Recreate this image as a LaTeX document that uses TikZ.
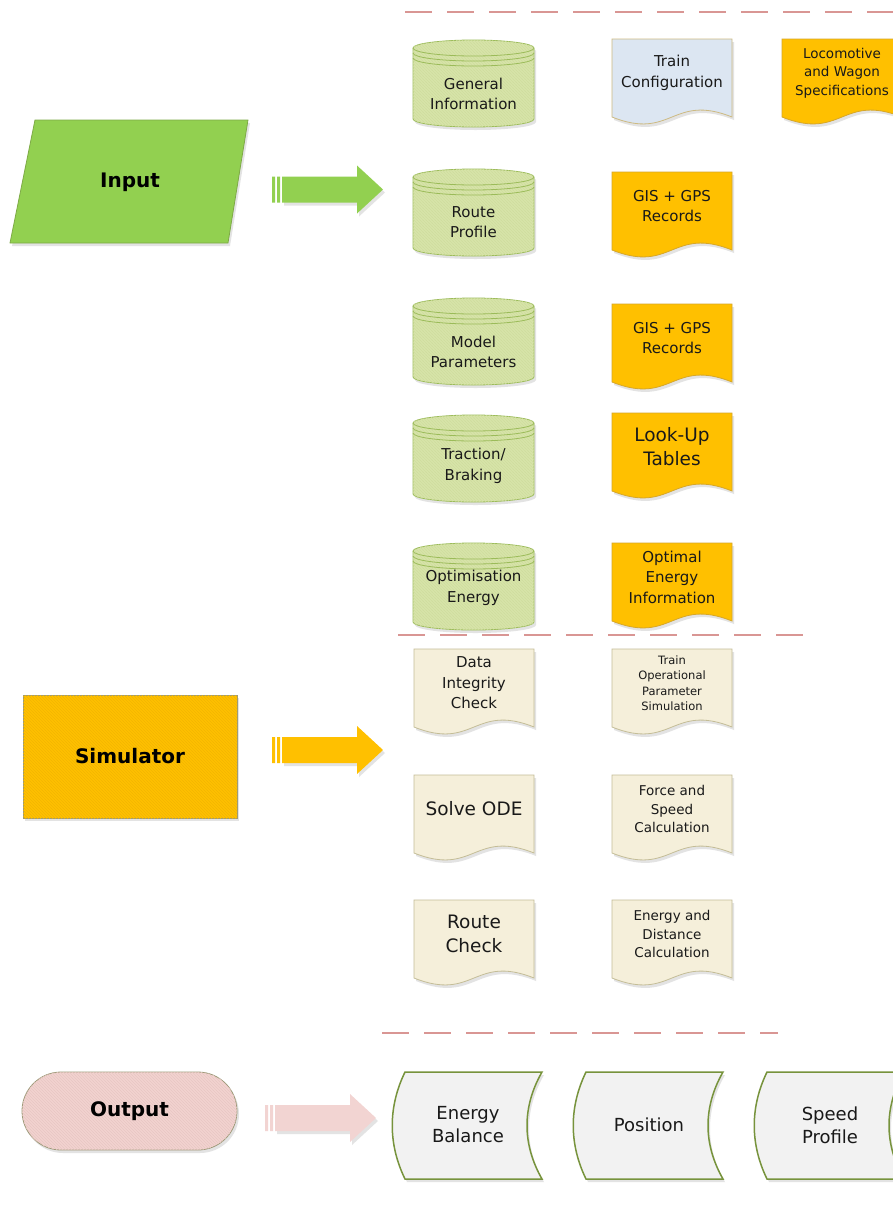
\documentclass[tikz,border=0pt]{standalone}
\usepackage{fontspec}
\setmainfont{DejaVu Sans}
\usepackage{tikz}
\usetikzlibrary{shadows}
\usetikzlibrary{patterns}

\definecolor{ingreen}{HTML}{92D050}
\definecolor{inborder}{HTML}{7EAA47}
\definecolor{dbfill}{HTML}{D7E4A9}
\definecolor{dbborder}{HTML}{9BBB59}
\definecolor{dbhatch}{HTML}{CFDD9E}
\definecolor{simyellow}{HTML}{FFC000}
\definecolor{simhatch}{HTML}{F2B600}
\definecolor{simborder}{HTML}{9C9A78}
\definecolor{yelborder}{HTML}{D6A72A}
\definecolor{cfgblue}{HTML}{DCE6F2}
\definecolor{cfgborder}{HTML}{CDBA82}
\definecolor{beige}{HTML}{F5EFDA}
\definecolor{beigeborder}{HTML}{C4BD97}
\definecolor{outpink}{HTML}{F2D3D0}
\definecolor{outhatch}{HTML}{E8C6C3}
\definecolor{arrowpink}{HTML}{F2D4D2}
\definecolor{outgrey}{HTML}{F2F2F2}
\definecolor{outborder}{HTML}{77933C}
\definecolor{sepline}{HTML}{D99694}

\newcommand{\fnorm}{\fontsize{15}{20.5}\selectfont}
\newcommand{\fbig}{\fontsize{18.5}{24}\selectfont}
\newcommand{\fmid}{\fontsize{13.5}{18.5}\selectfont}
\newcommand{\fsmall}{\fontsize{11.5}{15.5}\selectfont}
\newcommand{\fout}{\fontsize{18}{23}\selectfont}
\newcommand{\fhead}{\fontsize{20}{24}\selectfont\bfseries}

\begin{document}
\begin{tikzpicture}[x=1pt, y=1pt,
        softshadow/.style={drop shadow={shadow xshift=2pt, shadow yshift=-3pt, opacity=0.22}},
        divider/.style={draw=sepline, line width=2.6pt, dash pattern=on 27pt off 15pt},
        headtext/.style={font=\fhead, text=black},
        txt/.style={align=center, text=black!90, inner sep=0pt},
        inshape/.style={draw=inborder, fill=ingreen, thick, softshadow},
        dbase/.style={draw=dbborder, fill=dbfill, thick, softshadow, postaction={pattern=north west lines, pattern color=dbhatch}},
        dbline/.style={draw=dbborder, thick},
        doc/.style={thick, softshadow},
        docyellow/.style={doc, draw=yelborder, fill=simyellow},
        docblue/.style={doc, draw=cfgborder, fill=cfgblue},
        docbeige/.style={doc, draw=beigeborder, fill=beige},
        simbox/.style={rectangle, draw=simborder, fill=simyellow, thick, minimum width=214, minimum height=123, softshadow, postaction={pattern=north west lines, pattern color=simhatch}, headtext},
        outbox/.style={rectangle, rounded corners=39pt, draw=simborder, fill=outpink, thick, minimum width=215, minimum height=78, softshadow, postaction={pattern=north west lines, pattern color=outhatch}, headtext},
        store/.style={draw=outborder, fill=outgrey, line width=1.5pt, softshadow}
    ]
    \path[use as bounding box, fill=white] (0,0) rectangle (893,-1213);

    % section dividers
    \draw[divider] (405,-12) -- (893,-12);
    \draw[divider] (398,-635) -- (807,-635);
    \draw[divider] (382,-1033) -- (778,-1033);

    % left column
    \draw[inshape] (35,-120) -- (248,-120) -- (228,-243) -- (10,-243) -- cycle;
    \node[headtext] (input) at (130,-182) {Input};
    \node[simbox] (simulator) at (130,-756.5) {Simulator};
    \node[outbox] (output) at (129.5,-1111) {Output};

    % striped block arrows
    \foreach \xs/\yc/\col in {272/189.5/ingreen, 272/750/simyellow, 265/1118/arrowpink} {
        \fill[\col, softshadow] ({\xs+10},{-\yc+13}) -- ({\xs+85},{-\yc+13}) -- ({\xs+85},{-\yc+24}) -- ({\xs+111},-\yc)
            -- ({\xs+85},{-\yc-24}) -- ({\xs+85},{-\yc-13}) -- ({\xs+10},{-\yc-13}) -- cycle;
        \fill[\col] (\xs,{-\yc+13}) rectangle ({\xs+3},{-\yc-13}) ({\xs+5},{-\yc+13}) rectangle ({\xs+8},{-\yc-13});
    }

    % data stores
    \foreach \nm/\t/\dy/\txt in {geninfo/40/54/{General\\Information}, route/169/53/{Route\\Profile},
            model/298/54/{Model\\Parameters}, traction/415/51/{Traction/\\Braking}, optim/543/45/{Optimisation\\Energy}} {
        \draw[dbase] (413,{-\t-8}) -- (413,{-\t-79}) arc[start angle=180, end angle=360, x radius=60.5, y radius=8]
            -- (534,{-\t-8}) arc[start angle=0, end angle=180, x radius=60.5, y radius=8] -- cycle;
        \draw[dbline] (413,{-\t-8}) arc[start angle=180, end angle=360, x radius=60.5, y radius=8]
            (413,{-\t-13}) arc[start angle=180, end angle=360, x radius=60.5, y radius=8]
            (413,{-\t-18}) arc[start angle=180, end angle=360, x radius=60.5, y radius=8];
        \node[txt, font=\fnorm] (\nm) at (473.5,{-\t-\dy}) {\txt};
    }

    % documents
    \foreach \nm/\l/\t/\st/\fs/\txt in {
            trainconf/612/39/docblue/\fnorm/{Train\\Configuration},
            locospec/782/39/docyellow/\fmid/{Locomotive\\and Wagon\\Specifications},
            gisone/612/172/docyellow/\fnorm/{GIS + GPS\\Records},
            gistwo/612/304/docyellow/\fnorm/{GIS + GPS\\Records},
            lookup/612/413/docyellow/\fbig/{Look-Up\\Tables},
            optimal/612/543/docyellow/\fnorm/{Optimal\\Energy\\Information},
            integrity/414/649/docbeige/\fnorm/{Data\\Integrity\\Check},
            trainop/612/649/docbeige/\fsmall/{Train\\Operational\\Parameter\\Simulation},
            solveode/414/775/docbeige/\fbig/{Solve ODE},
            forcespeed/612/775/docbeige/\fmid/{Force and\\Speed\\Calculation},
            routecheck/414/900/docbeige/\fbig/{Route\\Check},
            energydist/612/900/docbeige/\fmid/{Energy and\\Distance\\Calculation}} {
        \draw[\st] (\l,-\t) -- ({\l+120},-\t) -- ({\l+120},{-\t-78})
            .. controls ({\l+60},{-\t-54}) and ({\l+60},{-\t-102}) .. (\l,{-\t-78}) -- cycle;
        \node[txt, font=\fs] (\nm) at ({\l+60},{-\t-34}) {\txt};
    }

    % output stores
    \foreach \nm/\l/\txt in {enbal/405/{Energy\\Balance}, position/586/{Position}, speedprof/767/{Speed\\Profile}} {
        \draw[store] (\l,-1072) -- ({\l+137},-1072)
            .. controls ({\l+117},-1107) and ({\l+117},-1144) .. ({\l+137},-1179)
            -- (\l,-1179) .. controls ({\l-17},-1144) and ({\l-17},-1107) .. (\l,-1072) -- cycle;
        \node[txt, font=\fout] (\nm) at ({\l+63},-1125) {\txt};
    }
\end{tikzpicture}
\end{document}
